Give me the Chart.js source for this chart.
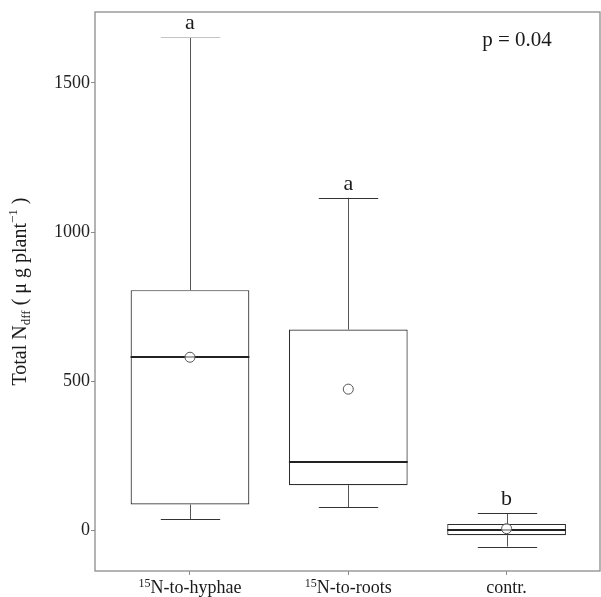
<!DOCTYPE html>
<html>
<head>
<meta charset="utf-8">
<title></title>
<script src="https://cdn.jsdelivr.net/npm/chart.js@4.4.1/dist/chart.umd.min.js"></script>
<style>
	html, body { margin: 0; padding: 0; background: #fff; overflow: hidden; }
</style>
</head>
<body>
<canvas id="box" width="601" height="597"></canvas>
<script>
	// datos del grafico
	const categories = ['15N-to-hyphae', '15N-to-roots', 'contr.'];
	const whiskerLow = [37, 77, -55];
	const q1 = [86, 151, -17];
	const median = [580, 227, 2];
	const q3 = [805, 673, 21];
	const whiskerHigh = [1653, 1115, 56];
	const means = [580, 473, 5];
	const letters = ['a', 'a', 'b'];
	const yTicks = [0, 500, 1000, 1500];

	const serif = '"Liberation Serif", "Times New Roman", serif';
	const positions = categories.map(function (c, i) { return i + 1; });

	// cajas como barras flotantes
	const boxData = positions.map(function (p, i) { return { x: p, y: [q1[i], q3[i]] }; });
	const meanData = positions.map(function (p, i) { return { x: p, y: means[i] }; });

	const boxPlugin = {
		id: 'boxExtras',
		beforeDatasetsDraw: function (chart) {
			const ctx = chart.ctx, x = chart.scales.x, y = chart.scales.y;
			const bars = chart.getDatasetMeta(0).data;
			ctx.save();
			ctx.lineWidth = 1;
			positions.forEach(function (p, i) {
				const cx = Math.round(x.getPixelForValue(p)) + 0.5;
				const half = bars[i].width / 4;
				// bigotes
				ctx.strokeStyle = '#555555';
				ctx.beginPath();
				ctx.moveTo(cx, y.getPixelForValue(q3[i]));
				ctx.lineTo(cx, y.getPixelForValue(whiskerHigh[i]));
				ctx.moveTo(cx, y.getPixelForValue(q1[i]));
				ctx.lineTo(cx, y.getPixelForValue(whiskerLow[i]));
				ctx.stroke();
				const yh = Math.round(y.getPixelForValue(whiskerHigh[i])) + 0.5;
				const yl = Math.round(y.getPixelForValue(whiskerLow[i])) + 0.5;
				ctx.strokeStyle = i === 0 ? '#c4c4c4' : '#333333';
				ctx.beginPath();
				ctx.moveTo(cx - half, yh); ctx.lineTo(cx + half, yh);
				ctx.stroke();
				ctx.strokeStyle = '#333333';
				ctx.beginPath();
				ctx.moveTo(cx - half, yl); ctx.lineTo(cx + half, yl);
				ctx.stroke();
			});
			ctx.restore();
		},
		afterDatasetDraw: function (chart, args) {
			if (args.index !== 0) return;
			const ctx = chart.ctx, x = chart.scales.x, y = chart.scales.y;
			const bars = chart.getDatasetMeta(0).data;
			ctx.save();
			// mediana
			ctx.strokeStyle = '#222222';
			ctx.lineWidth = 2;
			positions.forEach(function (p, i) {
				const cx = x.getPixelForValue(p);
				const half = bars[i].width / 2;
				const ym = Math.round(y.getPixelForValue(median[i]));
				ctx.beginPath();
				ctx.moveTo(cx - half, ym); ctx.lineTo(cx + half, ym);
				ctx.stroke();
			});
			ctx.restore();
		},
		afterDraw: function (chart) {
			const ctx = chart.ctx, x = chart.scales.x, y = chart.scales.y, a = chart.chartArea;
			ctx.save();
			// marco del panel
			ctx.strokeStyle = '#8c8c8c';
			ctx.lineWidth = 1.3;
			ctx.strokeRect(a.left, a.top, a.right - a.left, a.bottom - a.top);

			// letras de significancia
			ctx.fillStyle = '#1a1a1a';
			ctx.textAlign = 'center';
			ctx.textBaseline = 'alphabetic';
			ctx.font = '22px ' + serif;
			positions.forEach(function (p, i) {
				ctx.fillText(letters[i], x.getPixelForValue(p), y.getPixelForValue(whiskerHigh[i]) - 8);
			});
			ctx.font = '21px ' + serif;
			ctx.fillText('p = 0.04', 517, 46);

			// etiquetas del eje x con superindice
			positions.forEach(function (p, i) {
				const cx = x.getPixelForValue(p);
				const lab = categories[i];
				let sup = '', main = lab;
				if (lab.indexOf('15') === 0) { sup = '15'; main = lab.slice(2); }
				ctx.font = '12px ' + serif;
				const ws = ctx.measureText(sup).width;
				ctx.font = '18px ' + serif;
				const wm = ctx.measureText(main).width;
				const x0 = cx - (ws + wm) / 2;
				ctx.textAlign = 'left';
				ctx.font = '12px ' + serif;
				ctx.fillText(sup, x0, 587);
				ctx.font = '18px ' + serif;
				ctx.fillText(main, x0 + ws, 593);
			});

			// titulo del eje y
			const parts = [
				['Total N', 20, 0],
				['dff', 13, 4],
				[' ( \u03bc g plant', 20, 0],
				['\u22121', 13, -9],
				[' )', 20, 0]
			];
			let total = 0;
			parts.forEach(function (pt) { ctx.font = pt[1] + 'px ' + serif; total += ctx.measureText(pt[0]).width; });
			ctx.translate(26, (a.top + a.bottom) / 2);
			ctx.rotate(-Math.PI / 2);
			let px = -total / 2;
			ctx.textAlign = 'left';
			parts.forEach(function (pt) {
				ctx.font = pt[1] + 'px ' + serif;
				ctx.fillText(pt[0], px, pt[2]);
				px += ctx.measureText(pt[0]).width;
			});
			ctx.restore();
		}
	};

	const canvas = document.getElementById('box').getContext('2d');
	window.box = new Chart(canvas, {
		type: 'bar',
		data: {
			datasets: [{
				label: 'box',
				data: boxData,
				order: 2,
				backgroundColor: '#ffffff',
				borderColor: '#2e2e2e',
				borderWidth: 1.2,
				borderSkipped: false,
				barPercentage: 0.75,
				categoryPercentage: 1
			}, {
				type: 'scatter',
				label: 'mean',
				data: meanData,
				order: 1,
				pointStyle: 'circle',
				pointRadius: 5,
				pointBackgroundColor: 'rgba(255,255,255,0.6)',
				pointBorderColor: '#555555',
				pointBorderWidth: 1
			}]
		},
		options: {
			responsive: false,
			animation: false,
			layout: { autoPadding: false, padding: { top: 12, right: 1, left: 0, bottom: 0 } },
			plugins: { legend: { display: false }, tooltip: { enabled: false } },
			scales: {
				x: {
					type: 'linear',
					min: 0.4,
					max: 3.59,
					offset: false,
					afterBuildTicks: function (s) { s.ticks = positions.map(function (v) { return { value: v }; }); },
					afterFit: function (s) { s.height = 26; },
					ticks: { display: false },
					grid: { offset: false, drawOnChartArea: false, drawTicks: true, tickLength: 4, color: '#8c8c8c' },
					border: { display: false }
				},
				y: {
					min: -137,
					max: 1738,
					afterBuildTicks: function (s) { s.ticks = yTicks.map(function (v) { return { value: v }; }); },
					afterFit: function (s) { s.width = 95; },
					ticks: {
						color: '#222222', padding: 1, font: { family: serif, size: 18 },
						callback: function (v) { return String(v); }
					},
					grid: { drawOnChartArea: false, drawTicks: true, tickLength: 4, color: '#8c8c8c' },
					border: { display: false }
				}
			}
		},
		plugins: [boxPlugin]
	});
</script>
</body>
</html>
